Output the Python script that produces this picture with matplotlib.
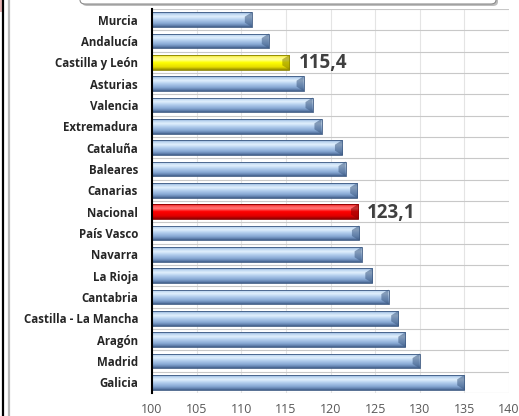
import numpy as np
import matplotlib.pyplot as plt
from matplotlib.colors import LinearSegmentedColormap
from matplotlib.patches import FancyBboxPatch, Rectangle, Polygon
from matplotlib.lines import Line2D

regiones = ['Murcia', 'Andalucía', 'Castilla y León', 'Asturias', 'Valencia',
            'Extremadura', 'Cataluña', 'Baleares', 'Canarias', 'Nacional',
            'País Vasco', 'Navarra', 'La Rioja', 'Cantabria',
            'Castilla - La Mancha', 'Aragón', 'Madrid', 'Galicia']
valores = [111.2, 113.1, 115.4, 117.0, 118.0, 119.0, 121.3, 121.7, 123.0, 123.1,
           123.2, 123.5, 124.7, 126.5, 127.6, 128.4, 130.0, 135.0]
destacadas = {'Castilla y León': 'amarillo', 'Nacional': 'rojo'}
ticks_x = [100, 105, 110, 115, 120, 125, 130, 135, 140]

plt.rcParams['font.family'] = ['Open Sans', 'DejaVu Sans']

# degradados verticales (arriba -> abajo)
cmaps = {
    'azul': LinearSegmentedColormap.from_list('azul', [
        (0.0, '#7f9fc8'), (0.12, '#b9d3ef'), (0.3, '#e2f0fd'), (0.5, '#b4cfee'),
        (0.75, '#88a9d4'), (0.9, '#6383b0'), (1.0, '#3f5c86')]),
    'amarillo': LinearSegmentedColormap.from_list('amarillo', [
        (0.0, '#d8d000'), (0.12, '#fff66a'), (0.3, '#ffff9a'), (0.5, '#ffff00'),
        (0.8, '#e6dc00'), (1.0, '#8f8600')]),
    'rojo': LinearSegmentedColormap.from_list('rojo', [
        (0.0, '#d00000'), (0.12, '#ff5050'), (0.3, '#ff7a7a'), (0.5, '#ff0000'),
        (0.8, '#e00000'), (1.0, '#8a0000')]),
}
bordes = {'azul': '#3d5a82', 'amarillo': '#8a8200', 'rojo': '#8a0000'}

fig = plt.figure(figsize=(5.19, 4.16), dpi=100)
ax = fig.add_axes([152 / 519, 23 / 416, 357 / 519, 384 / 416])

n = len(regiones)
pos = np.arange(n)
bars = ax.barh(pos, [v - 100 for v in valores], left=100, height=0.7,
               color='none', edgecolor='none', zorder=3)

grad = np.linspace(0, 1, 256).reshape(-1, 1)
for bar, reg, v in zip(bars, regiones, valores):
    tipo = destacadas.get(reg, 'azul')
    x0, y0 = bar.get_x(), bar.get_y()
    w, h = bar.get_width(), bar.get_height()
    im = ax.imshow(grad, extent=(x0, x0 + w, y0 + h, y0), aspect='auto',
                   cmap=cmaps[tipo], zorder=3, interpolation='bilinear')
    im.set_clip_path(bar)
    # remate biselado al final de la barra
    cap = Polygon([(v - 0.8, y0 + h * 0.3), (v, y0), (v, y0 + h), (v - 0.8, y0 + h * 0.7)],
                  closed=True, facecolor=bordes[tipo], alpha=0.55, edgecolor='none', zorder=4)
    ax.add_patch(cap)
    ax.add_patch(Rectangle((x0, y0), w, h, facecolor='none', edgecolor=bordes[tipo],
                           linewidth=0.6, zorder=5))
    if reg in destacadas:
        ax.text(v + 1.0, pos[regiones.index(reg)] + 0.05, f'{v:.1f}'.replace('.', ','),
                fontsize=13.5, fontweight='bold', color='#404040', va='center', ha='left',
                zorder=6)

ax.set_xlim(100, 140)
ax.set_ylim(n - 0.5, -0.5)
ax.set_xticks(ticks_x)
ax.set_xticklabels([str(t) for t in ticks_x], fontsize=9, color='#595959')
ax.set_yticks(pos)
ax.set_yticklabels(regiones, fontsize=8.3, fontweight='bold', color='#262626')
ax.tick_params(axis='both', length=0)
ax.tick_params(axis='y', pad=10)
ax.tick_params(axis='x', pad=7)

for x in ticks_x[1:]:
    ax.axvline(x, color='#e4e4e4', linewidth=0.8, zorder=1)
for y in np.arange(n + 1) - 0.5:
    ax.axhline(y, color='#c8c8c8', linewidth=0.8, zorder=1)

for s in ['top', 'right', 'bottom']:
    ax.spines[s].set_visible(False)
ax.spines['left'].set_color('black')
ax.spines['left'].set_linewidth(1.5)
ax.spines['left'].set_zorder(6)

# marco del gráfico original (bordes recortados)
fig.add_artist(Rectangle((0, 1 - 12 / 416), 3 / 519, 12 / 416, transform=fig.transFigure,
                         facecolor='#e8b4b4', edgecolor='none'))
fig.add_artist(Line2D([2.5 / 519, 2.5 / 519], [0, 1], transform=fig.transFigure,
                      color='black', linewidth=1.6))
fig.add_artist(Line2D([8.5 / 519, 8.5 / 519], [0, 1], transform=fig.transFigure,
                      color='#b8b8b8', linewidth=1.6))
fig.add_artist(FancyBboxPatch((82 / 519, 1 - 6 / 416), 416 / 519, 20 / 416,
                              boxstyle='round,pad=0,rounding_size=0.01',
                              transform=fig.transFigure, facecolor='#bdbdbd',
                              edgecolor='none'))
fig.add_artist(FancyBboxPatch((80 / 519, 1 - 4 / 416), 416 / 519, 20 / 416,
                              boxstyle='round,pad=0,rounding_size=0.01',
                              transform=fig.transFigure, facecolor='white',
                              edgecolor='#8c8c8c', linewidth=0.8))

fig.savefig('out.png', dpi=100)
